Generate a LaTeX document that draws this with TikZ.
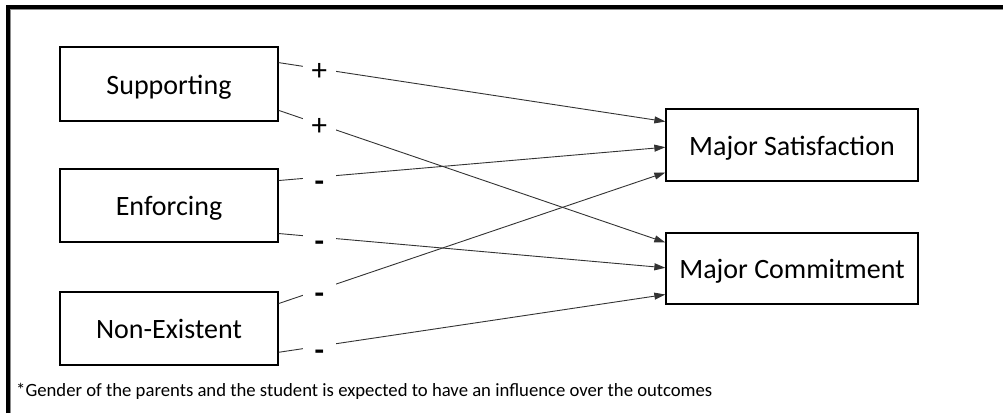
\documentclass[tikz,border=0pt]{standalone}
\usepackage{fontspec}
\setmainfont{Carlito}
\usetikzlibrary{arrows.meta,calc}
\tikzset{
  box/.style={draw=black, line width=1.3pt, rectangle, inner sep=0pt, text height=26pt, text depth=6pt, font=\fontsize{28}{32}\selectfont},
  lbox/.style={box, minimum width=218pt},
  rbox/.style={box, minimum width=252pt},
  conn/.style={draw=black!80, line width=0.9pt, -{Triangle[length=11pt,width=7pt]}},
  sign/.style={fill=white, inner sep=0pt, minimum width=33pt, minimum height=18pt, text height=0pt, text depth=0pt, font=\fontsize{31}{34}\selectfont, pos=0.105},
}
\newcommand{\plussign}{\raisebox{-11.5pt}{+}}
\newcommand{\minussign}{\raisebox{-14pt}{\bfseries -}}
\begin{document}
\begin{tikzpicture}[x=1pt,y=-1pt]
\useasboundingbox (0,0) rectangle (1003,413);
% frame
\draw[line width=4pt, black] (8,413) -- (8,7) -- (1003,7);
\draw[line width=0.8pt, black!45] (10.5,413) -- (10.5,9.5) -- (1003,9.5);
% nodes
\node[lbox, minimum height=74pt] (sup) at (169,84) {Supporting};
\node[lbox, minimum height=73pt] (enf) at (169,205.5) {Enforcing};
\node[lbox, minimum height=73pt] (non) at (169,328.5) {Non-Existent};
\node[rbox, minimum height=72pt] (sat) at (792,145) {Major Satisfaction};
\node[rbox, minimum height=71pt] (com) at (792,268.5) {Major Commitment};
% connectors
\draw[conn] ($(sup.north east)!0.216!(sup.south east)$) -- node[sign]{\plussign} ($(sat.north west)!0.18!(sat.south west)$);
\draw[conn] ($(sup.north east)!0.85!(sup.south east)$) -- node[sign]{\plussign} ($(com.north west)!0.14!(com.south west)$);
\draw[conn] ($(enf.north east)!0.164!(enf.south east)$) -- node[sign]{\minussign} ($(sat.north west)!0.53!(sat.south west)$);
\draw[conn] ($(enf.north east)!0.877!(enf.south east)$) -- node[sign]{\minussign} ($(com.north west)!0.49!(com.south west)$);
\draw[conn] ($(non.north east)!0.164!(non.south east)$) -- node[sign]{\minussign} ($(sat.north west)!0.875!(sat.south west)$);
\draw[conn] ($(non.north east)!0.82!(non.south east)$) -- node[sign]{\minussign} ($(com.north west)!0.86!(com.south west)$);
% footnote
\node[anchor=base west, inner sep=0pt, font=\fontsize{18.7}{22}\selectfont] (note) at (16,396) {*Gender of the parents and the student is expected to have an influence over the outcomes};
\end{tikzpicture}
\end{document}
